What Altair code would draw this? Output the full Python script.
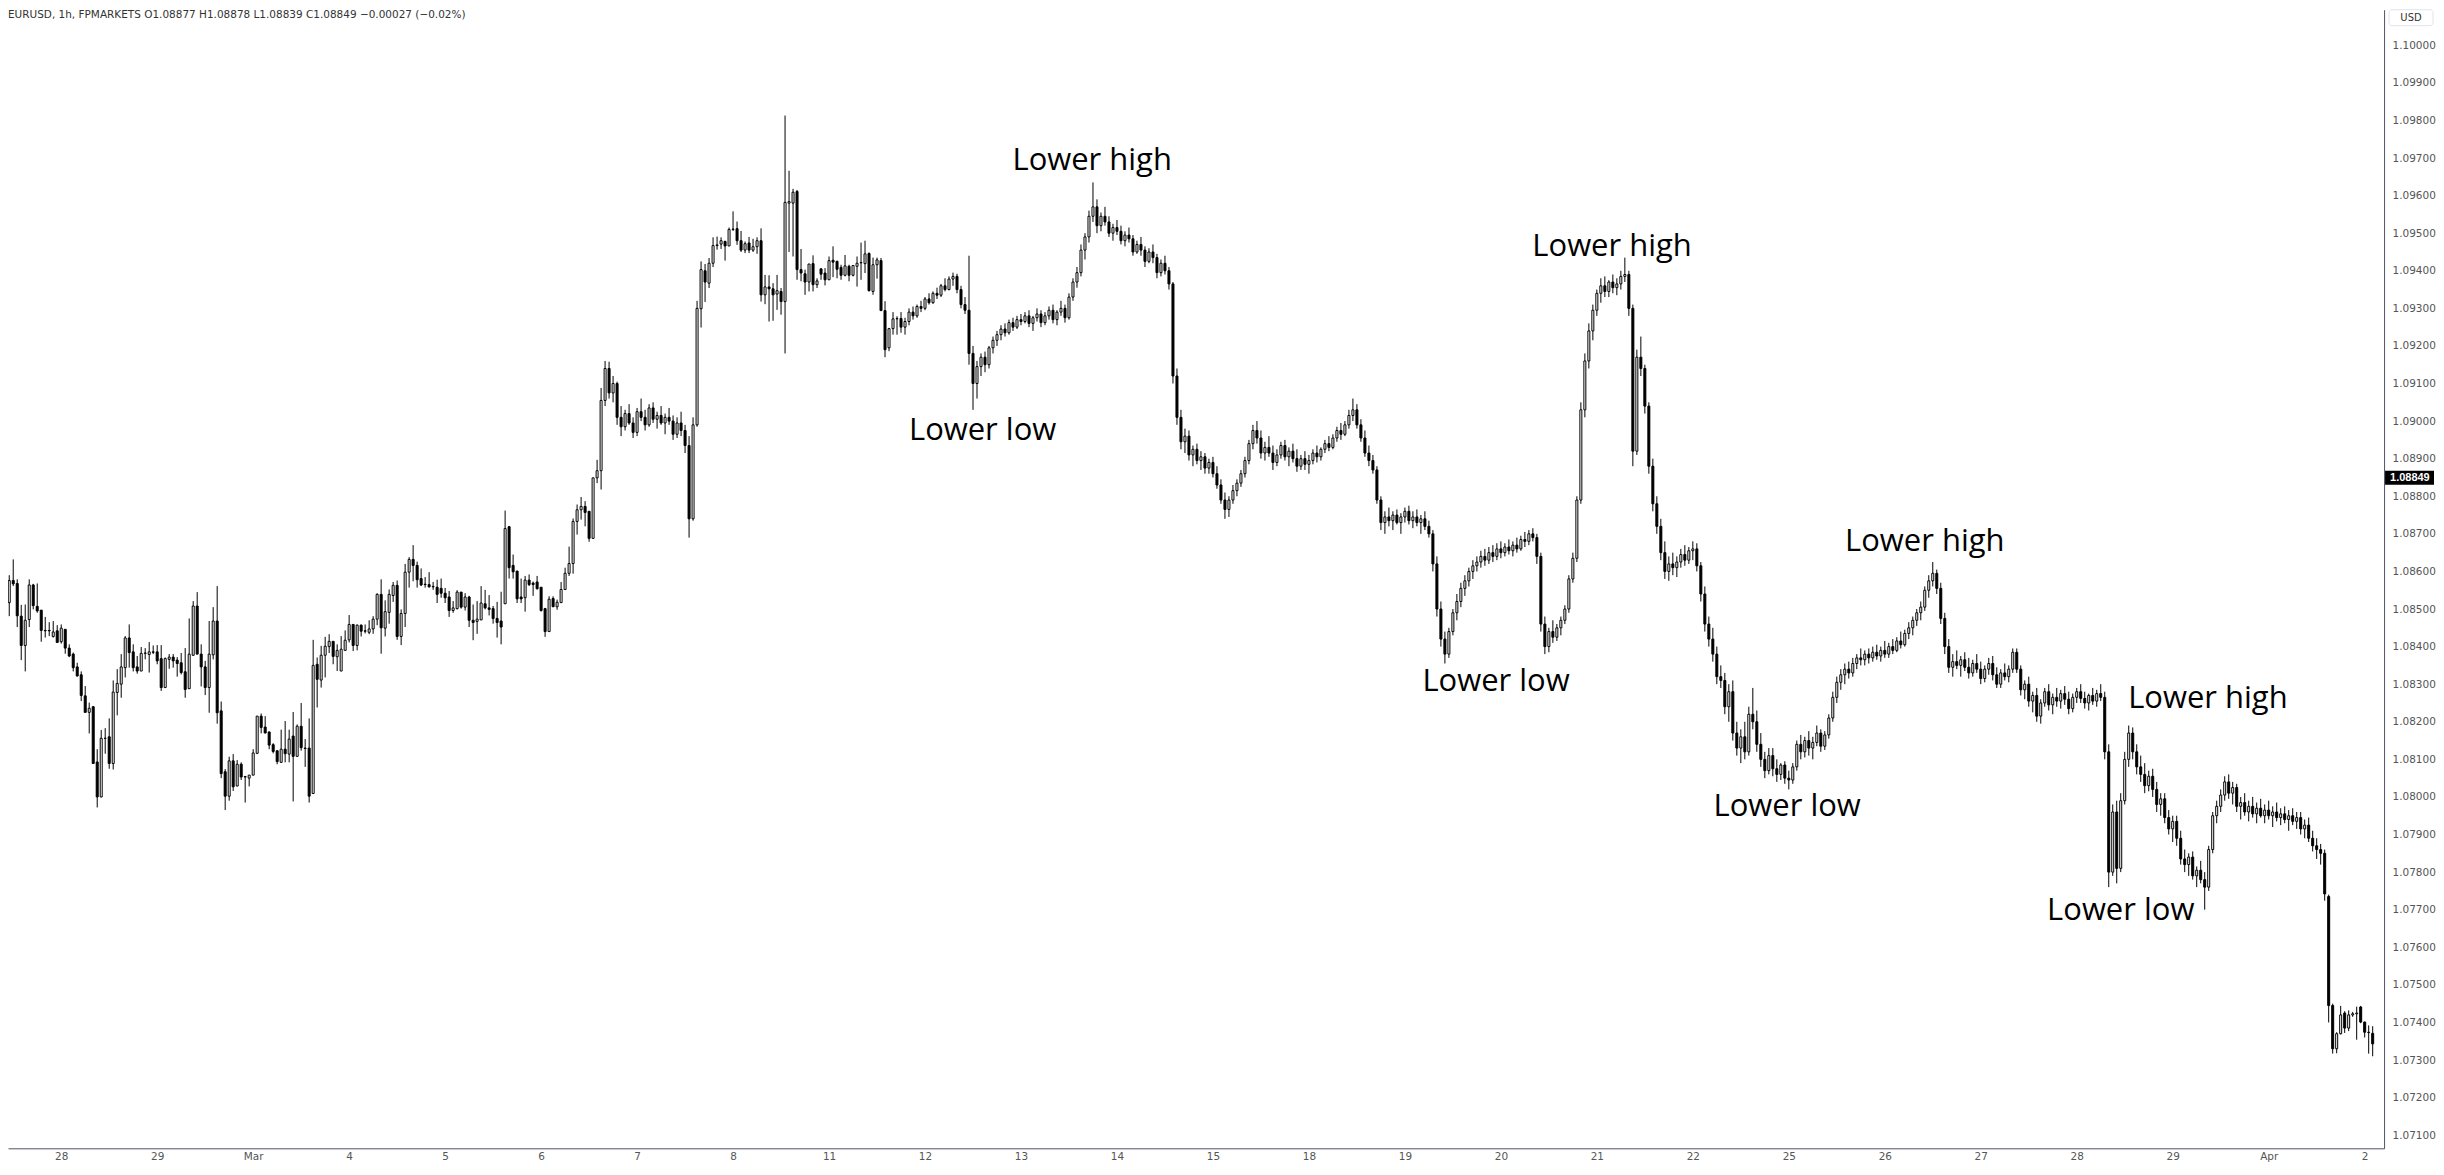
import json
import altair as alt
import pandas as pd

# ---------------- data (prices in points of 0.00001 above 1.07000) ----------------
FIRST_IDX = -14          # bar index of the first candle (0 = first hourly bar of Feb 28)
BASE = 1.07
opens = [
    # idx -14 .. 35
    1532,1517,1576,1568,1481,1403,1472,1564,1507,1497, 1443,1443,1427,1442,1413,1446,1396,1380,1346,1325,
    1269,1225,1240,1093,1000,1156,1160,1089,1278,1300, 1344,1423,1386,1346,1335,1382,1379,1386,1386,1368,
    1291,1366,1372,1364,1357,1333,1288,1377,1508,1380,
    # 36 .. 85
    1346,1291,1378,1468,1229,1067,1002,1096,1029,1087, 1054,1050,1058,1116,1215,1186,1173,1139,1123,1092,
    1127,1114,1162,1108,1188,1130,1130,1009,1353,1311, 1377,1400,1414,1373,1335,1390,1418,1459,1403,1457,
    1442,1438,1447,1473,1539,1449,1491,1536,1563,1427,
    # 86 .. 135
    1488,1598,1632,1616,1581,1566,1565,1560,1558,1555, 1542,1532,1496,1501,1545,1505,1532,1470,1467,1471,
    1514,1503,1501,1475,1468,1514,1719,1616,1601,1532, 1530,1577,1569,1572,1558,1501,1440,1528,1506,1517,
    1552,1595,1621,1733,1764,1773,1760,1688,1849,1868,
    # 136 .. 159
    2055,2140,2075,2100,2010,1985,2020,1995,1970,2025, 2010,1990,2035,2005,2015,1995,2010,2000,1965,1995,
    1975,1935,1740,1990,
    # 160 .. 209
    2299,2400,2367,2420,2467,2471,2478,2466,2510,2512, 2480,2455,2474,2455,2464,2480,2336,2357,2352,2338,
    2345,2318,2580,2580,2611,2403,2392,2370,2419,2363, 2405,2394,2376,2428,2425,2409,2388,2412,2388,2412,
    2421,2419,2446,2345,2416,2427,2294,2195,2246,2272,
    # 210 .. 226
    2273,2250,2265,2290,2280,2305,2300,2325,2315,2340,2335,2360,2350,2378,2385,2350,2310,
    # 227 .. 251
    2295,2180,2100,2145,2170,2150,2195,2215,2230,2245,2235,2262,2250,2270,2265,2280,2260,2275,2285,2262,
    2280,2295,2270,2290,2300,
    # 252 .. 259
    2275,2330,2370,2395,2455,2490,2545,2570,
    # 260 .. 277
    2520,2545,2530,2500,2515,2505,2480,2495,2485,2450,2470,2455,2425,2450,2435,2395,2420,2400,
    # 278 .. 299
    2365,2120,2010,1945,1960,1910,1925,1895,1905,1875,1890,1860,1830,1790,1765,1790,1815,1835,1860,1895,
    1940,1975,
    # 300 .. 323
    1955,1915,1930,1915,1890,1910,1935,1905,1920,1900,1880,1900,1885,1895,1915,1905,1925,1940,1930,1955,
    1975,1965,1990,2015,
    # 324 .. 346
    2030,1990,1955,1915,1895,1870,1790,1730,1745,1735,1750,1730,1745,1760,1735,1745,1730,1740,1720,1700,
    1620,1500,1420,
    # 347 .. 368
    1380,1440,1490,1520,1555,1575,1600,1615,1625,1640,1630,1650,1640,1660,1650,1665,1655,1670,1660,1685,
    1680,1700,
    # 369 .. 391
    1690,1640,1460,1400,1440,1425,1450,1470,1500,1580,1635,1790,2030,2160,2240,2295,2340,2360,2345,2370,
    2355,2365,2385,
    # 392 .. 409
    2390,2300,1920,2170,2140,2040,1880,1780,1720,1650,1600,1620,1610,1625,1645,1630,1655,1660,
    # 410 .. 433
    1615,1540,1460,1420,1380,1320,1310,1240,1280,1170,1130,1160,1120,1220,1200,1140,1100,1070,1110,1075,
    1060,1085,1050,1045,
    # 434 .. 458
    1080,1140,1120,1150,1130,1145,1170,1135,1165,1210,1265,1305,1325,1340,1330,1355,1370,1365,1380,1370,
    1385,1375,1390,1380,1400,
    # 459 .. 487
    1390,1415,1405,1435,1450,1470,1490,1505,1550,1575,1595,1555,1475,1400,1345,1360,1350,1365,1345,1330,
    1355,1340,1315,1340,1355,1325,1300,1330,1320,
    # 488 .. 510
    1340,1385,1340,1285,1300,1255,1270,1215,1250,1280,1245,1265,1255,1275,1260,1235,1265,1280,1262,1250,
    1270,1255,1275,
    # 511 .. 536
    1265,1120,800,960,810,990,1100,1170,1120,1080,1060,1030,1055,1020,980,995,945,915,935,890,
    835,820,840,790,805,780,
    # 537 .. 565
    760,860,950,975,1005,1040,1010,1025,975,985,960,975,955,970,950,965,950,960,945,955,
    940,950,935,945,915,925,890,870,860,
    # 566 .. 578
    850,735,445,330,370,425,385,420,423,441,401,374,371,
]
highs = [
    1539,1590,1632,1579,1511,1512,1579,1567,1568,1497, 1479,1465,1468,1457,1459,1446,1406,1384,1357,1334,
    1295,1251,1242,1127,1178,1183,1209,1310,1340,1380, 1428,1459,1406,1375,1399,1396,1412,1403,1404,1404,
    1371,1380,1380,1372,1383,1396,1475,1521,1545,1406,
    1362,1468,1505,1561,1254,1074,1107,1114,1098,1092, 1056,1058,1127,1215,1222,1215,1173,1143,1123,1179,
    1202,1179,1226,1193,1250,1154,1209,1418,1371,1402, 1426,1433,1414,1406,1428,1443,1484,1459,1459,1459,
    1459,1470,1481,1542,1579,1523,1552,1572,1576,1499,
    1620,1638,1670,1626,1608,1585,1598,1572,1578,1581, 1556,1548,1521,1550,1545,1542,1535,1512,1521,1561,
    1551,1537,1508,1519,1546,1762,1721,1645,1601,1581, 1588,1592,1573,1588,1558,1503,1534,1534,1525,1572,
    1610,1666,1741,1778,1798,1787,1760,1849,1897,2088,
    2160,2158,2120,2105,2040,2030,2045,2010,2035,2060, 2030,2045,2050,2025,2040,2020,2035,2015,2010,2025,
    1990,1960,2010,2320,
    2425,2418,2434,2489,2491,2489,2480,2515,2558,2531, 2506,2478,2490,2485,2489,2513,2389,2388,2367,2389,
    2354,2813,2666,2618,2615,2458,2403,2418,2441,2380, 2407,2407,2438,2465,2427,2416,2442,2416,2414,2438,
    2475,2480,2449,2435,2435,2434,2319,2248,2290,2279,
    2290,2275,2300,2305,2310,2320,2330,2340,2345,2355,2365,2380,2385,2395,2392,2360,2330,
    2440,2200,2160,2180,2185,2200,2225,2240,2255,2260,2270,2275,2280,2285,2290,2295,2280,2300,2295,2290,
    2305,2310,2295,2320,2310,
    2340,2380,2410,2470,2500,2560,2635,2590,
    2555,2570,2545,2525,2535,2520,2505,2515,2495,2480,2490,2465,2460,2470,2445,2430,2440,2410,
    2370,2140,2030,1980,1975,1935,1940,1920,1915,1900,1905,1880,1845,1810,1800,1830,1845,1870,1905,1950,
    1990,2000,
    1975,1945,1960,1935,1925,1945,1950,1930,1940,1925,1910,1920,1910,1925,1935,1930,1950,1960,1965,1985,
    1995,2000,2030,2060,
    2045,2005,1975,1935,1910,1880,1800,1760,1770,1760,1765,1755,1770,1775,1760,1765,1750,1760,1735,1710,
    1640,1520,1440,
    1450,1500,1540,1570,1590,1610,1630,1640,1655,1660,1665,1670,1675,1680,1675,1685,1680,1690,1695,1705,
    1710,1715,
    1700,1650,1480,1450,1470,1460,1480,1510,1590,1650,1800,2050,2180,2260,2310,2350,2380,2385,2375,2390,
    2380,2400,2435,
    2400,2310,2190,2225,2150,2050,1900,1800,1740,1680,1640,1650,1640,1660,1670,1665,1680,1675,
    1625,1560,1480,1450,1400,1350,1330,1300,1310,1200,1180,1200,1240,1290,1230,1170,1120,1130,1130,1100,
    1090,1095,1070,1090,
    1150,1165,1160,1175,1160,1190,1180,1175,1220,1280,1320,1340,1355,1360,1370,1380,1395,1390,1395,1400,
    1405,1400,1415,1410,1420,
    1425,1440,1445,1465,1480,1500,1520,1560,1590,1625,1605,1570,1490,1420,1380,1390,1375,1385,1370,1365,
    1380,1360,1350,1370,1375,1345,1340,1355,1350,
    1395,1395,1350,1310,1320,1280,1290,1260,1290,1300,1275,1290,1285,1295,1280,1275,1290,1300,1280,1275,
    1290,1285,1300,
    1280,1140,980,990,1010,1120,1190,1185,1140,1110,1090,1070,1075,1040,1010,1010,965,950,950,910,
    860,850,855,815,830,800,
    870,960,990,1020,1055,1060,1040,1035,1000,1010,990,1000,985,995,980,990,975,985,970,975,
    965,970,960,960,940,945,910,890,875,
    860,740,450,374,444,430,432,428,442,444,402,392,390,
]
lows = [
    1422,1481,1561,1452,1364,1334,1452,1499,1490,1413, 1424,1428,1424,1411,1408,1381,1372,1334,1320,1255,
    1225,1169,1089, 972, 999,1115,1075,1073,1217,1264, 1318,1344,1334,1328,1335,1366,1331,1380,1353,1282,
    1291,1341,1344,1320,1326,1264,1288,1375,1380,1294,
    1271,1224,1366,1195,1050, 965, 990,1016,1029,1045,  985,1028,1058,1114,1169,1170,1127,1116,1087,1092,
    1092,1092, 988,1108,1123,1080, 985,1009,1238,1291, 1318,1383,1353,1335,1335,1390,1411,1388,1390,1427,
    1435,1433,1434,1457,1381,1427,1461,1519,1418,1404,
    1452,1557,1574,1557,1561,1557,1557,1551,1516,1530, 1516,1479,1490,1499,1501,1496,1452,1417,1434,1471,
    1499,1483,1461,1424,1406,1514,1581,1581,1516,1516, 1493,1561,1535,1552,1493,1426,1440,1506,1498,1517,
    1552,1588,1594,1698,1738,1720,1679,1688,1835,1818,
    2040,2060,2050,1990,1960,1975,1990,1955,1960,2000, 1975,1985,1995,1980,1990,1965,1990,1950,1955,1960,
    1915,1690,1735,1985,
    2249,2317,2354,2410,2456,2458,2427,2466,2506,2469, 2450,2447,2447,2450,2445,2318,2311,2265,2267,2296,
    2283,2180,2450,2438,2376,2372,2336,2345,2345,2354, 2376,2361,2376,2383,2380,2376,2385,2372,2385,2358,
    2376,2394,2345,2336,2379,2294,2170,2186,2230,2230,
    2235,2230,2255,2270,2275,2290,2295,2310,2312,2325,2330,2345,2348,2360,2340,2300,2285,
    2150,2030,2060,2120,2130,2140,2180,2200,2215,2225,2230,2240,2245,2255,2260,2250,2240,2265,2250,2255,
    2270,2260,2255,2280,2262,
    2270,2320,2355,2385,2430,2475,2530,2500,
    2505,2520,2490,2480,2495,2470,2465,2475,2440,2445,2440,2410,2420,2420,2380,2385,2390,2350,
    2100,1990,1925,1915,1895,1880,1885,1870,1860,1860,1850,1820,1780,1740,1745,1780,1800,1825,1850,1885,
    1925,1940,
    1900,1895,1905,1870,1880,1900,1895,1880,1890,1865,1870,1870,1860,1885,1890,1895,1915,1920,1925,1945,
    1950,1960,1980,2000,
    1980,1945,1905,1880,1860,1780,1710,1700,1720,1710,1725,1700,1730,1725,1715,1720,1700,1710,1690,1600,
    1480,1400,1355,
    1370,1430,1470,1505,1535,1560,1580,1600,1610,1615,1620,1625,1630,1635,1640,1645,1640,1650,1655,1665,
    1670,1680,
    1620,1440,1380,1385,1410,1415,1430,1460,1490,1570,1625,1780,2010,2140,2215,2280,2315,2330,2330,2340,
    2335,2350,2370,
    2280,1880,1910,2120,2020,1860,1760,1700,1630,1580,1575,1590,1585,1610,1615,1620,1630,1600,
    1520,1440,1400,1360,1300,1290,1220,1200,1150,1110,1090,1100,1110,1180,1120,1080,1050,1060,1055,1040,
    1045,1035,1020,1035,
    1070,1100,1105,1110,1100,1135,1120,1125,1155,1200,1250,1285,1300,1315,1320,1340,1350,1350,1355,1360,
    1365,1360,1370,1370,1380,
    1385,1395,1400,1420,1430,1455,1470,1495,1530,1560,1540,1460,1380,1330,1320,1340,1320,1335,1315,1320,
    1330,1300,1305,1325,1310,1290,1290,1310,1305,
    1330,1330,1270,1260,1240,1225,1200,1195,1240,1230,1220,1240,1235,1245,1220,1225,1250,1250,1235,1230,
    1245,1240,1255,
    1100,760,790,770,800,980,1080,1100,1060,1040,1010,1015,1000,960,950,930,900,880,870,820,
    800,790,780,760,770,700,
    750,850,930,960,990,995,980,960,940,950,935,945,930,945,930,940,920,935,925,930,
    910,925,915,900,890,880,855,835,820,
    724,400,317,318,368,372,377,415,354,398,360,317,310,
]
closes = [
    1517,1576,1567,1482,1403,1470,1564,1509,1495,1443, 1442,1442,1439,1411,1449,1396,1375,1344,1322,1270,
    1225,1236,1089,1000,1156,1156,1089,1279,1302,1346, 1423,1384,1344,1335,1382,1383,1386,1385,1362,1291,
    1368,1372,1362,1355,1331,1286,1380,1508,1380,1346,
    1291,1380,1468,1224,1062,1002,1096,1027,1087,1053, 1053,1058,1117,1215,1185,1170,1138,1121,1094,1127,
    1115,1154,1108,1188,1131,1129,1002,1350,1313,1377, 1401,1414,1374,1390,1393,1417,1459,1403,1457,1441,
    1441,1447,1473,1539,1450,1493,1539,1563,1427,1488,
    1598,1632,1616,1578,1564,1565,1559,1559,1539,1542, 1530,1496,1503,1545,1505,1532,1470,1464,1473,1516,
    1503,1499,1475,1464,1452,1714,1610,1599,1527,1527, 1577,1565,1565,1554,1496,1440,1526,1506,1518,1552,
    1595,1621,1733,1764,1773,1757,1688,1849,1868,2055,
    2140,2075,2100,2010,1985,2020,1995,1970,2025,2010, 1990,2035,2005,2015,1995,2010,2000,1965,1995,1975,
    1935,1740,1990,2300,
    2403,2370,2420,2467,2469,2480,2466,2510,2511,2480, 2455,2472,2455,2464,2480,2336,2357,2352,2336,2347,
    2318,2582,2584,2609,2403,2394,2370,2418,2363,2373, 2391,2376,2427,2423,2404,2388,2413,2388,2414,2420,
    2422,2445,2347,2416,2429,2294,2190,2246,2272,2273,
    2250,2265,2290,2280,2305,2300,2325,2315,2340,2335,2360,2350,2378,2385,2350,2310,2295,
    2180,2100,2145,2170,2150,2195,2215,2230,2245,2235,2262,2250,2270,2265,2280,2260,2275,2285,2262,2280,
    2295,2270,2290,2300,2275,
    2330,2370,2395,2455,2490,2545,2570,2520,
    2545,2530,2500,2515,2505,2480,2495,2485,2450,2470,2455,2425,2450,2435,2395,2420,2400,2365,
    2120,2010,1945,1960,1910,1925,1895,1905,1875,1890,1860,1830,1790,1765,1790,1815,1835,1860,1895,1940,
    1975,1955,
    1915,1930,1915,1890,1910,1935,1905,1920,1900,1880,1900,1885,1895,1915,1905,1925,1940,1930,1955,1975,
    1965,1990,2015,2030,
    1990,1955,1915,1895,1870,1790,1730,1745,1735,1750,1730,1745,1760,1735,1745,1730,1740,1720,1700,1620,
    1500,1420,1380,
    1440,1490,1520,1555,1575,1600,1615,1625,1640,1630,1650,1640,1660,1650,1665,1655,1670,1660,1685,1680,
    1700,1690,
    1640,1460,1400,1440,1425,1450,1470,1500,1580,1635,1790,2030,2160,2240,2295,2340,2360,2345,2370,2355,
    2365,2385,2390,
    2300,1920,2170,2140,2040,1880,1780,1720,1650,1600,1620,1610,1625,1645,1630,1655,1660,1615,
    1540,1460,1420,1380,1320,1310,1240,1280,1170,1130,1160,1120,1220,1200,1140,1100,1070,1110,1075,1060,
    1085,1050,1045,1080,
    1140,1120,1150,1130,1145,1170,1135,1165,1210,1265,1305,1325,1340,1330,1355,1370,1365,1380,1370,1385,
    1375,1390,1380,1400,1390,
    1415,1405,1435,1450,1470,1490,1505,1550,1575,1595,1555,1475,1400,1345,1360,1350,1365,1345,1330,1355,
    1340,1315,1340,1355,1325,1300,1330,1320,1340,
    1385,1340,1285,1300,1255,1270,1215,1250,1280,1245,1265,1255,1275,1260,1235,1265,1280,1262,1250,1270,
    1255,1275,1265,
    1120,800,960,810,990,1100,1170,1120,1080,1060,1030,1055,1020,980,995,945,915,935,890,835,
    820,840,790,805,780,760,
    860,950,975,1005,1040,1010,1025,975,985,960,975,955,970,950,965,950,960,945,955,940,
    950,935,945,915,925,890,870,860,850,
    742,445,330,370,420,385,420,423,425,401,374,373,343,
]

day_labels = ['28', '29', 'Mar', '4', '5', '6', '7', '8', '11', '12', '13', '14', '15',
              '18', '19', '20', '21', '22', '25', '26', '27', '28', '29', 'Apr', '2']
BARS_PER_DAY = 24

y_ticks = [1.071, 1.072, 1.073, 1.074, 1.075, 1.076, 1.077, 1.078, 1.079, 1.080,
           1.081, 1.082, 1.083, 1.084, 1.085, 1.086, 1.087, 1.088, 1.089, 1.090,
           1.091, 1.092, 1.093, 1.094, 1.095, 1.096, 1.097, 1.098, 1.099, 1.100]

ann_labels = ['Lower high', 'Lower low', 'Lower high', 'Lower low',
              'Lower high', 'Lower low', 'Lower high', 'Lower low']
ann_idx = [257.8, 230.4, 387.8, 358.8, 466.0, 431.6, 536.8, 515.0]
ann_price = [1.09693, 1.08973, 1.09462, 1.08306, 1.08678, 1.07974, 1.08261, 1.07697]

header_text = "EURUSD, 1h, FPMARKETS  O1.08877  H1.08878  L1.08839  C1.08849  \u22120.00027 (\u22120.02%)"
last_price = 1.08849
last_label = "1.08849"
currency = "USD"

# ---------------- build ----------------
n = min(len(opens), len(highs), len(lows), len(closes))
df = pd.DataFrame({
    'idx': [FIRST_IDX + i for i in range(n)],
    'open': [BASE + v / 100000 for v in opens[:n]],
    'high': [BASE + v / 100000 for v in highs[:n]],
    'low': [BASE + v / 100000 for v in lows[:n]],
    'close': [BASE + v / 100000 for v in closes[:n]],
})
ann_df = pd.DataFrame({'label': ann_labels, 'idx': ann_idx, 'price': ann_price})
last_df = pd.DataFrame({'price': [last_price], 'label': [last_label]})
hdr_df = pd.DataFrame({'t': [header_text]})
cur_df = pd.DataFrame({'t': [currency]})

W, H = 2379, 1140
AXIS_FONT = 'DejaVu Sans'
xscale = alt.Scale(domain=[-12.06, 579.6], nice=False, zero=False)
yscale = alt.Scale(domain=[1.070651, 1.100946], nice=False, zero=False)

label_expr = json.dumps(day_labels).replace('"', "'") + "[round(datum.value / %d)]" % BARS_PER_DAY
xaxis = alt.Axis(values=[BARS_PER_DAY * d for d in range(len(day_labels))], labelExpr=label_expr,
                 title=None, grid=False, ticks=False, labelPadding=3, labelFont=AXIS_FONT,
                 labelFontSize=10.5, labelColor='#555555', domainColor='#50535e', domainWidth=1,
                 labelOverlap=False, labelFlush=False, labelBound=False)
yaxis = alt.Axis(orient='right', values=y_ticks, format='.5f', title=None, grid=False, ticks=False,
                 labelPadding=8, labelFont=AXIS_FONT, labelFontSize=10.5, labelColor='#555555',
                 domainColor='#50535e', domainWidth=1, labelOverlap=False, labelFlush=False,
                 labelBound=False)


def X(field):
    return alt.X(field, type='quantitative', scale=xscale, axis=xaxis, title=None)


def Y(field):
    return alt.Y(field, type='quantitative', scale=yscale, axis=yaxis, title=None)


wick = alt.Chart(df).mark_rule(color='black', strokeWidth=1, clip=True).encode(
    x=X('idx'), y=Y('low'), y2='high:Q')

body = alt.Chart(df).mark_bar(width=2, stroke='black', strokeWidth=1, clip=True).encode(
    x=X('idx'), y=Y('open'), y2='close:Q',
    fill=alt.condition('datum.close >= datum.open', alt.value('white'), alt.value('black')))

ann = alt.Chart(ann_df).mark_text(font='Open Sans', fontSize=31, color='black').encode(
    x=X('idx'), y=Y('price'), text='label:N')

hdr = alt.Chart(hdr_df).mark_text(align='left', baseline='top', font=AXIS_FONT, fontSize=10.5,
                                  color='#333333').encode(
    x=alt.value(0), y=alt.value(0), text='t:N')

price_box = alt.Chart(last_df).mark_rect(color='black', yOffset=-7, y2Offset=7).encode(
    x=alt.value(W + 1), x2=alt.value(W + 50), y=Y('price'), y2='price:Q')
price_txt = alt.Chart(last_df).mark_text(align='left', baseline='middle', color='white',
                                         fontWeight='bold', font='Liberation Sans',
                                         fontSize=11).encode(
    x=alt.value(W + 6), y=Y('price'), text='label:N')

cur_box = alt.Chart(cur_df).mark_rect(fill='white', stroke='#e0e3eb', cornerRadius=3).encode(
    x=alt.value(W + 5), x2=alt.value(W + 49), y=alt.value(0), y2=alt.value(16))
cur_txt = alt.Chart(cur_df).mark_text(align='center', baseline='middle', font=AXIS_FONT,
                                      fontSize=10, color='#333333').encode(
    x=alt.value(W + 27), y=alt.value(8), text='t:N')

chart = alt.layer(wick, body, ann, hdr, price_box, price_txt, cur_box, cur_txt).properties(
    width=W, height=H, padding=0, background='white'
).configure_view(stroke=None)

chart.save("out.html", embed_options={"renderer": "svg", "actions": False})
